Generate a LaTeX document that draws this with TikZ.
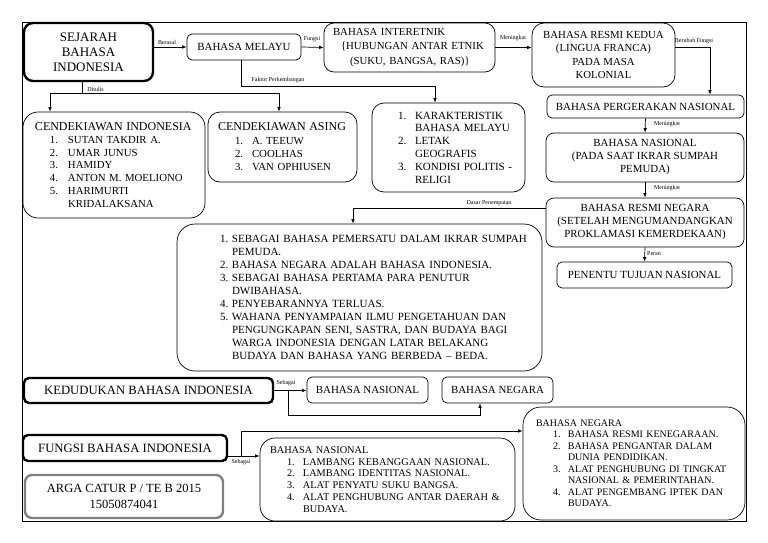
\documentclass[tikz,border=0pt]{standalone}
\usepackage{fontspec}
\setmainfont{Liberation Serif}
\usepackage{tikz}
\usetikzlibrary{arrows.meta}
\newlength{\nrind}
\newlength{\nrw}
\def\nr#1{\hspace*{\nrind}\makebox[\nrw][l]{#1.}}
\def\nc{\hspace*{\nrind}\hspace*{\nrw}}
\tikzset{
	box/.style={draw, line width=0.7pt, rounded corners=#1, inner sep=4pt, align=center, font=\fontsize{10.9}{13}\selectfont},
	box/.default=6pt,
	head/.style={box=#1, line width=2.4pt, font=\fontsize{12.7}{15}\selectfont},
	head/.default=6pt,
	lst/.style 2 args={align=left, execute at begin node={\setlength{\nrind}{#1}\setlength{\nrw}{#2}}},
	lbl/.style={inner sep=0.5pt, font=\fontsize{6}{7}\selectfont},
	link/.style={line width=0.7pt, -{Latex[length=4.5pt,width=3.5pt]}}
}

\begin{document}
\begin{tikzpicture}[x=10pt, y=-10pt]
			%%%%% START %%%%%
			\useasboundingbox (0, 0) rectangle (76.8, 54.3);
			\draw[line width=0.7pt] (2.2, 2.2) rectangle (74.6, 52.1);
			
			\node[head=9pt, minimum width=129pt, minimum height=58pt, font=\fontsize{13}{15}\selectfont] (sejarah) at (8.85, 5.2) {SEJARAH\\BAHASA\\INDONESIA};
			\node[box=5pt, minimum width=114pt, minimum height=26pt] (melayu) at (24.4, 4.7) {BAHASA MELAYU};
			\node[box=10pt, text width=163pt, minimum height=49pt, align=left, font=\fontsize{10.8}{14.5}\selectfont] (interetnik) at (40.95, 4.75) {\hspace*{5pt}BAHASA INTERETNIK\\\hspace*{13pt}\{HUBUNGAN ANTAR ETNIK\\\hspace*{22pt}(SUKU, BANGSA, RAS)\}};
			\node[box=12pt, minimum width=143pt, minimum height=64pt, font=\fontsize{10.8}{13.3}\selectfont] (resmikedua) at (60.35, 5.5) {BAHASA RESMI KEDUA\\(LINGUA FRANCA)\\PADA MASA\\KOLONIAL};
			
			\node[box=5pt, minimum width=197pt, minimum height=23pt] (pergerakan) at (64.55, 10.65) {BAHASA PERGERAKAN NASIONAL};
			\node[box=8pt, minimum width=198pt, minimum height=49pt] (nasional) at (64.5, 15.75) {BAHASA NASIONAL\\(PADA SAAT IKRAR SUMPAH\\PEMUDA)};
			\node[box=8pt, minimum width=198pt, minimum height=49pt] (resminegara) at (64.5, 22.25) {BAHASA RESMI NEGARA\\(SETELAH MENGUMANDANGKAN\\PROKLAMASI KEMERDEKAAN)};
			\node[box=5pt, minimum width=175pt, minimum height=26pt] (penentu) at (64.45, 27.5) {PENENTU TUJUAN NASIONAL};
			
			\node[box=15pt, lst={23pt}{18pt}, text width=174pt, minimum height=106pt, font=\fontsize{10.8}{12.8}\selectfont] (cendindo) at (11.4, 16.5) {\hspace*{8pt}{\fontsize{12}{13}\selectfont CENDEKIAWAN INDONESIA}\\\nr{1}SUTAN TAKDIR A.\\\nr{2}UMAR JUNUS\\\nr{3}HAMIDY\\\nr{4}ANTON M. MOELIONO\\\nr{5}HARIMURTI\\\nc KRIDALAKSANA};
			\node[box=12pt, lst={23pt}{17pt}, text width=141pt, minimum height=70pt, font=\fontsize{10.8}{13.3}\selectfont] (cendasing) at (28.25, 14.7) {\hspace*{6pt}{\fontsize{12}{13}\selectfont CENDEKIAWAN ASING}\\\nr{1}A. TEEUW\\\nr{2}COOLHAS\\\nr{3}VAN OPHIUSEN};
			\node[box=12pt, lst={22pt}{17pt}, text width=145pt, minimum height=89pt, font=\fontsize{11}{12.8}\selectfont] (faktor) at (44.85, 14.75) {\nr{1}KARAKTERISTIK\\\nc BAHASA MELAYU\\\nr{2}LETAK\\\nc GEOGRAFIS\\\nr{3}KONDISI POLITIS -\\\nc RELIGI};
			\node[box=18pt, lst={39pt}{12pt}, text width=357pt, minimum height=147pt, font=\fontsize{11}{13}\selectfont] (uraian) at (35.95, 29.75) {\nr{1}SEBAGAI BAHASA PEMERSATU DALAM IKRAR SUMPAH\\\nc PEMUDA.\\\nr{2}BAHASA NEGARA ADALAH BAHASA INDONESIA.\\\nr{3}SEBAGAI BAHASA PERTAMA PARA PENUTUR\\\nc DWIBAHASA.\\\nr{4}PENYEBARANNYA TERLUAS.\\\nr{5}WAHANA PENYAMPAIAN ILMU PENGETAHUAN DAN\\\nc PENGUNGKAPAN SENI, SASTRA, DAN BUDAYA BAGI\\\nc WARGA INDONESIA DENGAN LATAR BELAKANG\\\nc BUDAYA DAN BAHASA YANG BERBEDA -- BEDA.};
			
			\node[head=5pt, minimum width=249pt, minimum height=25pt] (kedudukan) at (14.85, 39.05) {KEDUDUKAN BAHASA INDONESIA};
			\node[box=5pt, minimum width=121pt, minimum height=26pt] (bnas) at (36.75, 39.0) {BAHASA NASIONAL};
			\node[box=5pt, minimum width=111pt, minimum height=26pt] (bneg) at (49.75, 39.0) {BAHASA NEGARA};
			\node[head=5pt, minimum width=204pt, minimum height=26pt] (fungsi) at (12.5, 44.8) {FUNGSI BAHASA INDONESIA};
			\node[head=7pt, draw=gray, minimum width=198pt, minimum height=43pt, font=\fontsize{12.5}{16.5}\selectfont] (arga) at (12.4, 49.65) {ARGA CATUR P / TE B 2015\\15050874041};
			\node[box=15pt, lst={23pt}{16pt}, text width=247pt, minimum height=83pt, font=\fontsize{10.3}{11.8}\selectfont] (nlist) at (38.75, 47.95) {\hspace*{6pt}BAHASA NASIONAL\\\nr{1}LAMBANG KEBANGGAAN NASIONAL.\\\nr{2}LAMBANG IDENTITAS NASIONAL.\\\nr{3}ALAT PENYATU SUKU BANGSA.\\\nr{4}ALAT PENGHUBUNG ANTAR DAERAH \&\\\nc BUDAYA.};
			\node[box=18pt, lst={26pt}{15pt}, text width=214pt, minimum height=113pt, font=\fontsize{10}{11.5}\selectfont] (glist) at (63.4, 46.35) {\hspace*{9pt}BAHASA NEGARA\\\nr{1}BAHASA RESMI KENEGARAAN.\\\nr{2}BAHASA PENGANTAR DALAM\\\nc DUNIA PENDIDIKAN.\\\nr{3}ALAT PENGHUBUNG DI TINGKAT\\\nc NASIONAL \& PEMERINTAHAN.\\\nr{4}ALAT PENGEMBANG IPTEK DAN\\\nc BUDAYA.};
			
			\draw[link] (sejarah.east |- melayu.west) -- (melayu.west);
			\draw[link] (melayu.east) -- (interetnik.west);
			\draw[link] (interetnik.east) -- (interetnik.east -| resmikedua.west);
			\node[lbl] (lberasal) at (16.7, 4.2) {Berasal};
			\node[lbl] (lfungsi) at (31.2, 3.9) {Fungsi};
			\node[lbl] (lmeningkat) at (51.3, 3.8) {Meningkat};
			
			\coordinate (bf) at (71.0, 4.7);
			\draw[link] (resmikedua.east |- bf) -- (bf) -- (bf |- pergerakan.north);
			\node[lbl] (lberubah) at (69.4, 4.1) {Berubah Fungsi};
			
			\draw[link] (pergerakan.south) -- (nasional.north);
			\draw[link] (nasional.south) -- (resminegara.north);
			\draw[link] (resminegara.south) -- (penentu.north);
			\node[lbl] (lnaik1) at (66.7, 12.4) {Meningkat};
			\node[lbl] (lnaik2) at (66.7, 18.8) {Meningkat};
			\node[lbl] (lperan) at (65.4, 25.4) {Peran};
			
			\coordinate (dit) at (8.2, 9.3);
			\coordinate (ditl) at (5.0, 9.3);
			\coordinate (ditr) at (27.9, 9.3);
			\draw (dit |- sejarah.south) -- (dit);
			\draw (ditl) -- (ditr);
			\draw[link] (ditl) -- (ditl |- cendindo.north);
			\draw[link] (ditr) -- (ditr |- cendasing.north);
			\node[lbl] (lditulis) at (9.55, 8.9) {Ditulis};
			
			\coordinate (fak) at (24.1, 8.6);
			\coordinate (fakr) at (43.5, 8.6);
			\draw (fak |- melayu.south) -- (fak) -- (fakr);
			\draw[link] (fakr) -- (fakr |- faktor.north);
			\node[lbl] (lfaktor) at (27.8, 8.0) {Faktor Perkembangan};
			
			\coordinate (dsr) at (35.3, 20.8);
			\draw[link] (resminegara.west |- dsr) -- (dsr) -- (dsr |- uraian.north);
			\node[lbl] (ldasar) at (48.9, 20.3) {Dasar Penempatan};
			
			\coordinate (kdb) at (28.8, 41.5);
			\coordinate (kde) at (48.0, 41.5);
			\draw[link] (kedudukan.east) -- (kedudukan.east -| bnas.west);
			\draw[link] (kdb |- kedudukan.east) -- (kdb) -- (kde) -- (kde |- bneg.south);
			\node[lbl] (lsebagai1) at (28.6, 38.3) {Sebagai};
			
			\coordinate (fg) at (24.1, 45.6);
			\coordinate (fgt) at (24.1, 43.1);
			\draw[link] (fungsi.east |- fg) -- (fg -| nlist.west);
			\draw[link] (fg) -- (fgt) -- (fgt -| glist.west);
			\node[lbl] (lsebagai2) at (24.1, 46.2) {Sebagai};
			%%%%% END %%%%%
\end{tikzpicture}
\end{document}
